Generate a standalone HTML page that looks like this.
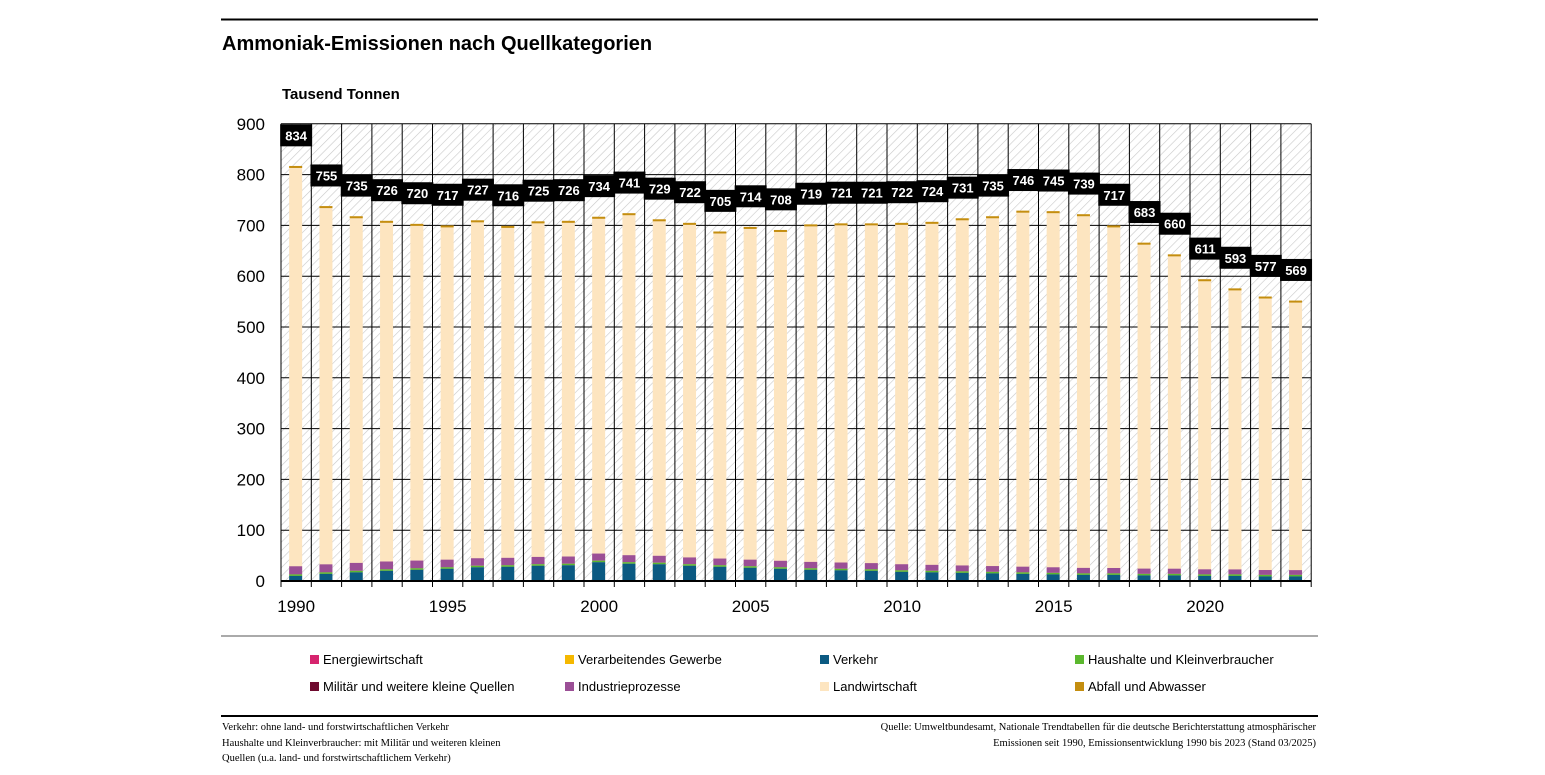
<!DOCTYPE html>
<html><head><meta charset="utf-8"><style>
body{margin:0;background:#fff;font-family:"Liberation Sans",sans-serif;}
#c{position:relative;width:1545px;height:775px;overflow:hidden}
</style></head><body><div id="c">
<svg id="s" width="1545" height="775" xmlns="http://www.w3.org/2000/svg" font-family="Liberation Sans, sans-serif">
<defs><pattern id="h" width="6" height="6" patternUnits="userSpaceOnUse" patternTransform="rotate(45)"><rect width="6" height="6" fill="#fff"/><line x1="0" y1="0" x2="0" y2="6" stroke="#c8c8c8" stroke-width="1.2"/></pattern></defs>
<line x1="221" y1="19.5" x2="1318" y2="19.5" stroke="#000" stroke-width="2"/>
<text x="222" y="50" font-size="20" font-weight="bold">Ammoniak-Emissionen nach Quellkategorien</text>
<text x="282" y="99" font-size="15" font-weight="bold">Tausend Tonnen</text>
<g id="g"></g>
<line x1="221" y1="636" x2="1318" y2="636" stroke="#555" stroke-width="1"/>
<line x1="221" y1="716" x2="1318" y2="716" stroke="#000" stroke-width="2"/>
<g font-size="13">
<rect x="310" y="655" width="9" height="9" fill="#d6246e"/><text x="323" y="664">Energiewirtschaft</text>
<rect x="565" y="655" width="9" height="9" fill="#f5b800"/><text x="578" y="664">Verarbeitendes Gewerbe</text>
<rect x="820" y="655" width="9" height="9" fill="#0b5a82"/><text x="833" y="664">Verkehr</text>
<rect x="1075" y="655" width="9" height="9" fill="#5bb82e"/><text x="1088" y="664">Haushalte und Kleinverbraucher</text>
<rect x="310" y="682" width="9" height="9" fill="#6e0a2e"/><text x="323" y="691">Militär und weitere kleine Quellen</text>
<rect x="565" y="682" width="9" height="9" fill="#9b4f96"/><text x="578" y="691">Industrieprozesse</text>
<rect x="820" y="682" width="9" height="9" fill="#fde5c0"/><text x="833" y="691">Landwirtschaft</text>
<rect x="1075" y="682" width="9" height="9" fill="#c48e10"/><text x="1088" y="691">Abfall und Abwasser</text>
</g>
<g font-size="10.5" font-family="Liberation Serif, serif">
<text x="222" y="730">Verkehr: ohne land- und forstwirtschaftlichen Verkehr</text>
<text x="222" y="746">Haushalte und Kleinverbraucher: mit Militär und weiteren kleinen</text>
<text x="222" y="761">Quellen (u.a. land- und forstwirtschaftlichem Verkehr)</text>
<text x="1316" y="730" text-anchor="end">Quelle: Umweltbundesamt, Nationale Trendtabellen für die deutsche Berichterstattung atmosphärischer</text>
<text x="1316" y="746" text-anchor="end">Emissionen seit 1990, Emissionsentwicklung 1990 bis 2023 (Stand 03/2025)</text>
</g>
</svg></div>
<script>
(function(){
var T=[834,755,735,726,720,717,727,716,725,726,734,741,729,722,705,714,708,719,721,721,722,724,731,735,746,745,739,717,683,660,611,593,577,569];
var V=[10,14,17,20,22,24,27,28,30,31,37,34,33,30,28,26,24,22,21,20,18,17,16,15,14,13,12,12,11,11,10,10,9,9];
var L=281,W=30.3,Y0=581,k=0.508,R=L+W*34;
function y(v){return Y0-v*k}
var s='<rect x="'+L+'" y="'+y(900)+'" width="'+(W*34)+'" height="'+(900*k)+'" fill="url(#h)"/>';
for(var i=1;i<9;i++)s+='<line x1="'+L+'" x2="'+R+'" y1="'+y(i*100)+'" y2="'+y(i*100)+'" stroke="#000" stroke-width="1"/>';
for(var i=0;i<=34;i++){var x=L+i*W;s+='<line x1="'+x+'" x2="'+x+'" y1="'+y(900)+'" y2="'+(Y0+6)+'" stroke="#000" stroke-width="1"/>';}
s+='<line x1="'+L+'" x2="'+R+'" y1="'+y(900)+'" y2="'+y(900)+'" stroke="#000"/>';
for(var i=0;i<=9;i++)s+='<text x="265" y="'+(y(i*100)+6)+'" text-anchor="end" font-size="17">'+(i*100)+'</text>';
for(var i=0;i<34;i++){
 var cx=L+i*W+W/2,bx=cx-7,bw=13,t=T[i],v=V[i],hh=3,ind=16-i*0.2;
 var bt=t-17;
 s+='<rect x="'+bx+'" y="'+y(bt)+'" width="'+bw+'" height="'+(bt*k)+'" fill="#fde5c0"/>';
 s+='<rect x="'+bx+'" y="'+y(bt)+'" width="'+bw+'" height="2" fill="#c48e10"/>';
 s+='<rect x="'+bx+'" y="'+y(v+hh+ind)+'" width="'+bw+'" height="'+(ind*k)+'" fill="#9b4f96"/>';
 s+='<rect x="'+bx+'" y="'+y(v+hh)+'" width="'+bw+'" height="'+(hh*k)+'" fill="#5bb82e"/>';
 s+='<rect x="'+bx+'" y="'+y(v)+'" width="'+bw+'" height="'+(v*k)+'" fill="#0b5a82"/>';
 if((1990+i)%5==0)s+='<text x="'+cx+'" y="612" text-anchor="middle" font-size="17">'+(1990+i)+'</text>';
}
s+='<line x1="'+L+'" x2="'+R+'" y1="'+Y0+'" y2="'+Y0+'" stroke="#000" stroke-width="2"/>';
for(var i=0;i<34;i++){
 var cx=L+i*W+W/2,by=y(T[i])-11-22;
 s+='<rect x="'+(cx-16)+'" y="'+by+'" width="32" height="22" fill="#000"/>';
 s+='<text x="'+cx+'" y="'+(by+16)+'" text-anchor="middle" font-size="13" font-weight="bold" fill="#fff">'+T[i]+'</text>';
}
document.getElementById('g').innerHTML=s;
})();
</script>
</body></html>
